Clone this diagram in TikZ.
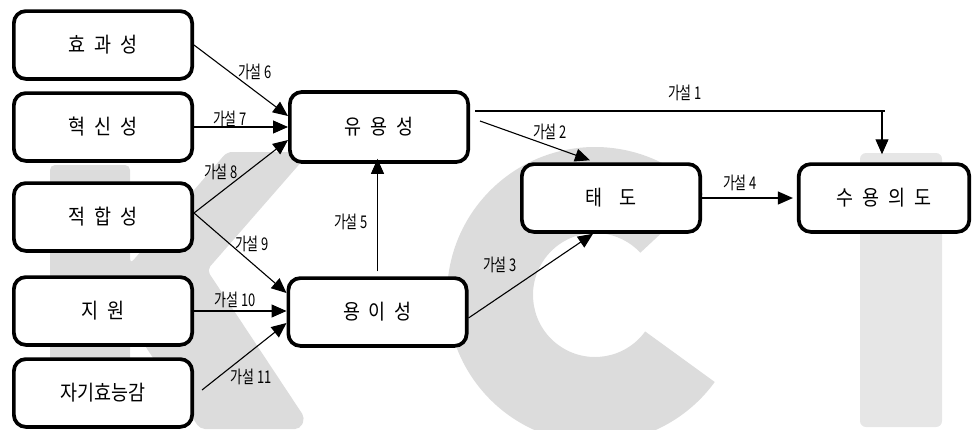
\documentclass[tikz,border=0pt]{standalone}
\usepackage{fontspec}
\setmainfont{Noto Sans CJK KR}
\newfontfamily\boxfont[FakeStretch=0.88]{Noto Sans CJK KR}
\newfontfamily\lblfont[FakeStretch=0.74]{Noto Sans CJK KR}
\usetikzlibrary{arrows.meta,calc}
\newcommand\kgap{\hspace{0.42em}}
\definecolor{wmK}{HTML}{DCDCDC}
\definecolor{wmI}{HTML}{E6E6E6}
\begin{document}
\begin{tikzpicture}[x=1pt,y=-1pt,
  bx/.style={draw,line width=3.7pt,rounded corners=12pt,fill=white,
    minimum width=178.3pt,minimum height=67.8pt,inner sep=0pt,
    font=\boxfont\fontsize{21}{24}\selectfont},
  ar/.style={line width=1.1pt,-{Triangle[length=15pt,width=13pt]}},
  ln/.style={line width=1.1pt},
  lb/.style={font=\lblfont\fontsize{17.5}{20}\selectfont,inner sep=0pt}]
\useasboundingbox (0,0) rectangle (972,429);
% watermark
\fill[wmK,rounded corners=5pt] (50,429) -- (50,165) -- (130,165) -- (130,264) -- (227,152) -- (310,152) -- (207,270) -- (305,418) -- (300,429) -- (200,429) -- (130,323) -- (130,429) -- cycle;
\begin{scope}[shift={(595,295)},y=1pt]
\fill[wmK] (43:148) arc[start angle=43,end angle=324,radius=148] -- (324:62) arc[start angle=324,end angle=43,radius=62] -- cycle;
\end{scope}
\fill[wmI,rounded corners=6pt] (860,153) rectangle (942,427);
% boxes
\node[bx] (b1) at (103,45) {효\kgap 과\kgap 성};
\node[bx] (b2) at (103,127) {혁\kgap 신\kgap 성};
\node[bx] (b3) at (103,217) {적\kgap 합\kgap 성};
\node[bx] (b4) at (103,311) {지\kgap 원};
\node[bx] (b5) at (103,393) {자기효능감};
\node[bx,minimum height=70pt] (u) at (379,127) {유\kgap 용\kgap 성};
\node[bx] (e) at (377.5,312) {용\kgap 이\kgap 성};
\node[bx] (t) at (611,198) {태\kgap\kgap 도};
\node[bx,minimum width=170.5pt] (a) at (884,198) {수\kgap 용\kgap 의\kgap 도};
% connectors
\draw[ar] (b1.east) -- ([yshift=11pt]u.west);
\draw[ar] (b2.east) -- (u.west);
\draw[ar] ([yshift=4pt]b3.east) -- ([yshift=-13pt]u.west);
\draw[ar] ([yshift=4pt]b3.east) -- ([yshift=19pt]e.west);
\draw[ar] (b4.east) -- (b4.east -| e.west);
\draw[ar] ([xshift=8pt,yshift=3pt]b5.east) -- ([yshift=-11pt]e.west);
\draw[ar] ([yshift=5pt]e.north) -- ([yshift=5pt]e.north |- u.south);
\coordinate (k1) at (882,111);
\draw[ln] ([xshift=5pt,yshift=16pt]u.east) -- ([xshift=3pt]k1);
\draw[ar] (k1) -- ([yshift=8pt]a.north -| k1);
\draw[ar] ([xshift=10pt,yshift=6pt]u.east) -- ([xshift=-21pt,yshift=2pt]t.north);
\draw[ar] ([yshift=-6pt]e.east) -- ([xshift=-18pt]t.south);
\draw[ar] (t.east) -- ([xshift=-4pt]a.west);
% labels
\node[lb] (l1) at (685,93) {가설 1};
\node[lb] (l2) at (550,132) {가설 2};
\node[lb] (l3) at (500,265) {가설 3};
\node[lb] (l4) at (740,183) {가설 4};
\node[lb] (l5) at (351,222) {가설 5};
\node[lb] (l6) at (255,72) {가설 6};
\node[lb] (l7) at (230,119) {가설 7};
\node[lb] (l8) at (221,172) {가설 8};
\node[lb] (l9) at (252,244) {가설 9};
\node[lb] (l10) at (235,300) {가설 10};
\node[lb] (l11) at (251,377) {가설 11};
\end{tikzpicture}
\end{document}
